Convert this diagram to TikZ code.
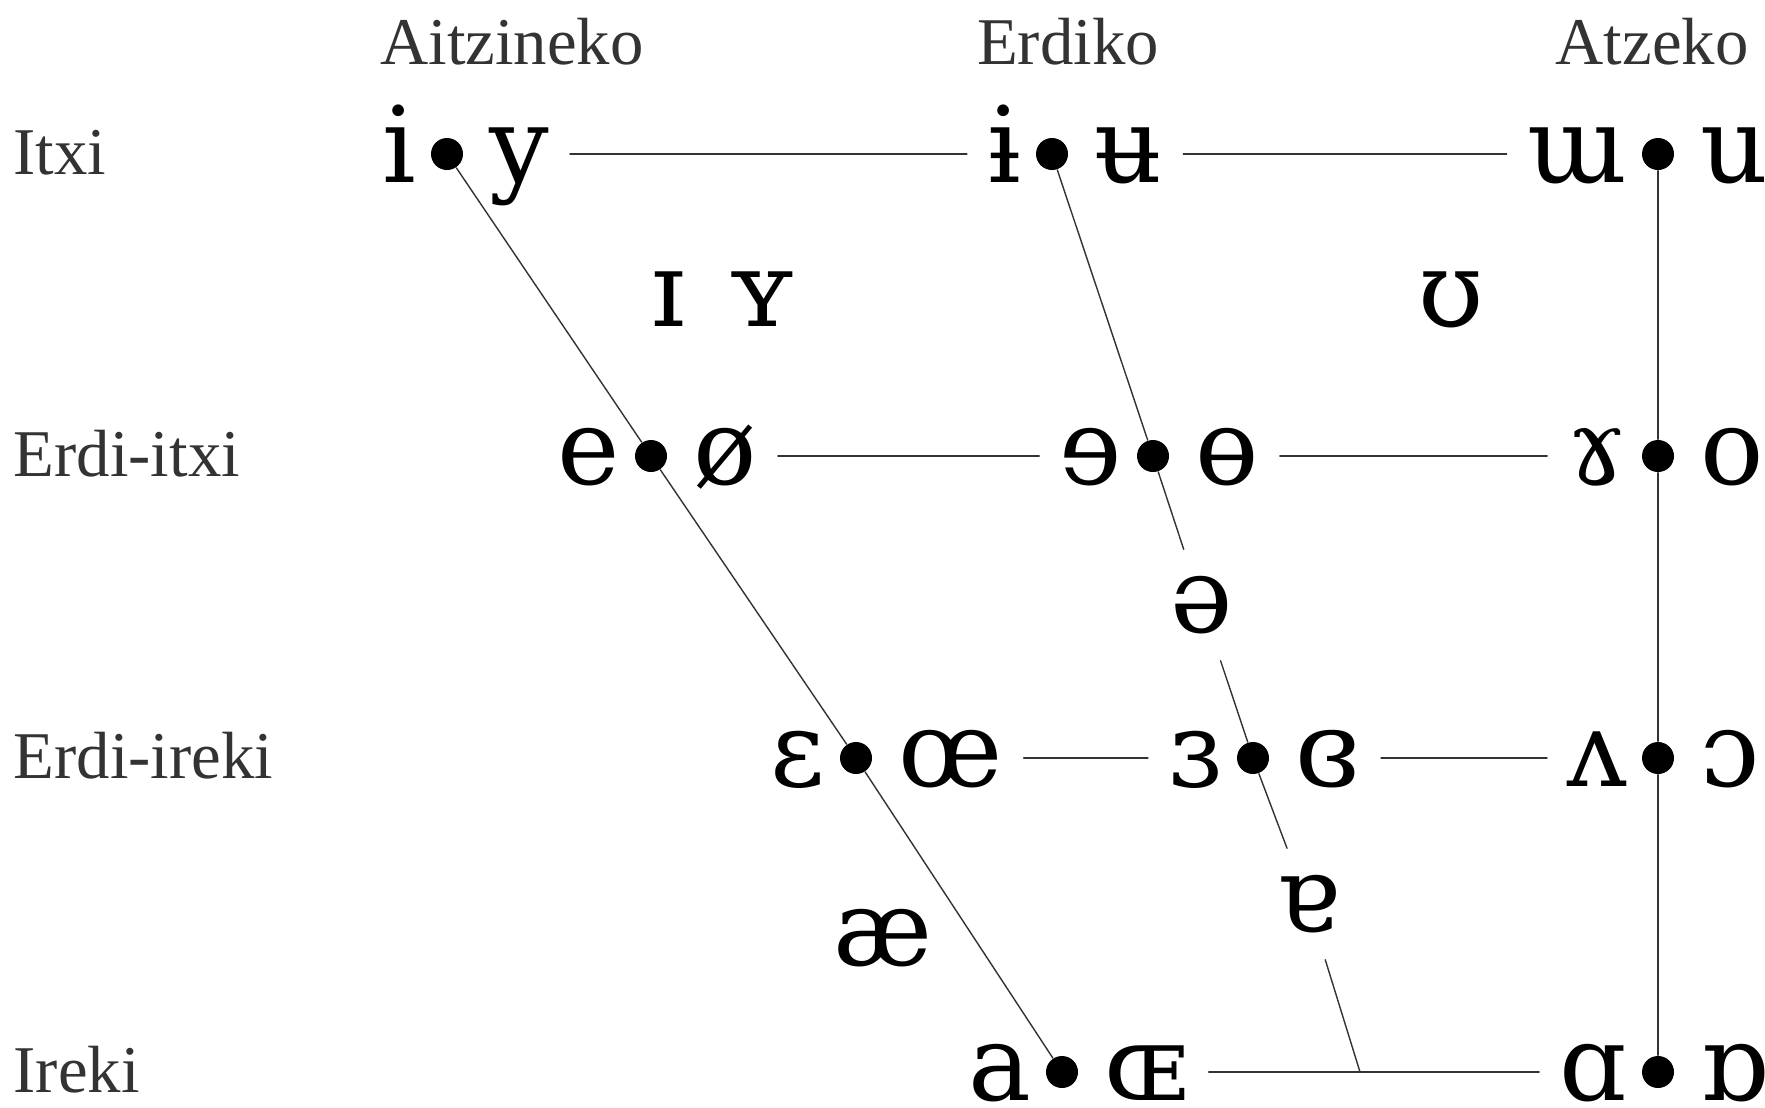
\documentclass[tikz,border=0pt]{standalone}
\usepackage{fontspec}
\setmainfont{Liberation Serif}
\newfontfamily\ipafont{DejaVu Serif}
\definecolor{ink}{HTML}{333333}

\begin{document}
\begin{tikzpicture}[x=0.1mm, y=-0.1mm, line cap=round,
  collab/.style={font=\fontsize{19}{22}\selectfont, text=ink, anchor=base, inner sep=0pt},
  rowlab/.style={font=\fontsize{19}{22}\selectfont, text=ink, anchor=base west, inner sep=0pt},
  vow/.style={font=\ipafont\fontsize{30}{36}\selectfont, inner sep=0pt},
  midvow/.style={vow, minimum height=11mm, minimum width=6mm},
  dotm/.style={circle, fill=black, inner sep=0pt, minimum size=3.2mm},
  hl/.style={ink, line width=0.4pt, shorten <=2mm, shorten >=2mm},
  vl/.style={ink, line width=0.4pt}]

\useasboundingbox (0,0) rectangle (1765,1107);

% ---- headers -----------------------------------------------------------
\node[collab] (front)   at (512,64)  {Aitzineko};
\node[collab] (central) at (1068,64) {Erdiko};
\node[collab] (back)    at (1652,64) {Atzeko};

\node[rowlab] (close)    at (13,174)  {Itxi};
\node[rowlab] (closemid) at (13,476)  {Erdi-itxi};
\node[rowlab] (openmid)  at (13,778)  {Erdi-ireki};
\node[rowlab] (open)     at (13,1092) {Ireki};

% ---- vowel pairs: unrounded . rounded ----------------------------------
\foreach \n/\x/\y/\lv/\rv in {11/447/154/i/y, 12/1052/154/ɨ/ʉ, 13/1658/154/ɯ/u,
                             21/651/456/e/ø, 22/1153/456/ɘ/ɵ, 23/1658/456/ɤ/o,
                             31/856/758/ɛ/œ, 32/1253/758/ɜ/ɞ, 33/1658/758/ʌ/ɔ,
                             41/1062/1072/a/ɶ, 43/1658/1072/ɑ/ɒ}{
  \node[dotm] (d\n) at (\x,\y) {};
  \node[vow, anchor=base east] (u\n) at (\x-30,\y+28) {\lv};
  \node[vow, anchor=base west] (r\n) at (\x+42,\y+28) {\rv};
}

% ---- lone vowels -------------------------------------------------------
\node[vow, anchor=base] (nfu) at (668,326)  {ɪ};
\node[vow, anchor=base] (nfr) at (762,326)  {ʏ};
\node[vow, anchor=base] (nbr) at (1451,326) {ʊ};
\node[vow, anchor=base] (nfo) at (883,965)  {æ};
\node[midvow] (schwa) at (1202,605) {ə};
\node[midvow] (turna) at (1308,904) {ɐ};
\coordinate (jc) at (1360,1072);

% ---- grid --------------------------------------------------------------
\draw[hl] (r11.east |- d11) -- (u12.west |- d12);
\draw[hl] (r12.east |- d12) -- (u13.west |- d13);
\draw[hl] (r21.east |- d21) -- (u22.west |- d22);
\draw[hl] (r22.east |- d22) -- (u23.west |- d23);
\draw[hl] (r31.east |- d31) -- (u32.west |- d32);
\draw[hl] (r32.east |- d32) -- (u33.west |- d33);
\draw[hl] (r41.east |- d41) -- (u43.west |- d43);

\draw[vl] (d11) -- (d21) -- (d31) -- (d41);
\draw[vl] (d12) -- (d22) -- (schwa) -- (d32) -- (turna) -- (jc);
\draw[vl] (d13) -- (d23) -- (d33) -- (d43);

\end{tikzpicture}
\end{document}
